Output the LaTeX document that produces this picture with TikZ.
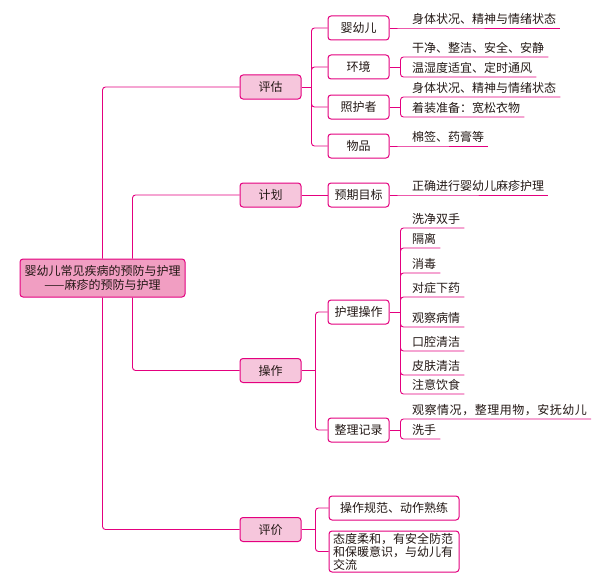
\documentclass[tikz,border=0pt]{standalone}
\usepackage{fontspec}
\setmainfont{Noto Sans CJK SC}
\usetikzlibrary{positioning}
\definecolor{mag}{HTML}{E4007F}
\definecolor{pinkfill}{HTML}{F6C6DC}
\definecolor{rootfill}{HTML}{F19EC2}
\definecolor{ink}{HTML}{231815}

\begin{document}
\begin{tikzpicture}[x=1pt,y=-1pt,font=\fontsize{12}{14}\selectfont,text=ink]
      \useasboundingbox (0,0) rectangle (605,586);
      \tikzstyle{conn}=[draw=mag,line width=0.9pt,rounded corners=3pt]
      \tikzstyle{onel}=[text height=10.5pt,text depth=1.5pt]
      \tikzstyle{rootbox}=[draw=mag,fill=rootfill,line width=1pt,rounded corners=3pt,minimum width=165pt,minimum height=38pt,align=center,inner sep=0pt]
      \tikzstyle{lvone}=[onel,draw=mag,fill=pinkfill,line width=1pt,rounded corners=3pt,minimum width=61pt,minimum height=24pt,inner sep=0pt]
      \tikzstyle{lvtwo}=[draw=mag,fill=white,line width=1pt,rounded corners=3pt,minimum width=61pt,minimum height=24pt,inner sep=0pt]
      \tikzstyle{leaf}=[onel,anchor=south west,inner xsep=4pt,inner ysep=3pt]

      \node[rootbox] (root) at (102.5,278) {婴幼儿常见疾病的预防与护理\\——麻疹的预防与护理};

      \node[lvone] (pg) at (270.5,87)    {评估};
      \node[lvone] (jh) at (270.5,195)   {计划};
      \node[lvone] (cz) at (270.5,370.5) {操作};
      \node[lvone] (pj) at (270.5,529.5) {评价};

      \node[lvtwo,onel] (yye)  at (358.5,28)  {婴幼儿};
      \node[lvtwo,onel] (hj)   at (358.5,67)  {环境};
      \node[lvtwo,onel] (zhz)  at (358.5,107) {照护者};
      \node[lvtwo,onel] (wp)   at (358.5,146) {物品};
      \node[lvtwo,onel] (yqmb) at (358.5,195) {预期目标};
      \node[lvtwo,onel] (hlcz) at (358.5,312) {护理操作};
      \node[lvtwo,onel] (zljl) at (358.5,430) {整理记录};
      \node[lvtwo,onel,minimum width=130pt] (pj1) at (394,508) {操作规范、动作熟练};
      \node[lvtwo,minimum width=130pt,minimum height=41pt,inner xsep=4pt,text width=122pt,align=left,font=\fontsize{12}{13}\selectfont] (pj2) at (394,551.5)
            {态度柔和，有安全防范\\和保暖意识，与幼儿有\\交流};

      \node[leaf] (l1)  at (408,28)  {身体状况、精神与情绪状态};
      \node[leaf] (l2)  at (408,57)  {干净、整洁、安全、安静};
      \node[leaf] (l3)  at (408,77)  {温湿度适宜、定时通风};
      \node[leaf] (l4)  at (408,97)  {身体状况、精神与情绪状态};
      \node[leaf] (l5)  at (408,117) {着装准备：宽松衣物};
      \node[leaf] (l6)  at (408,146) {棉签、药膏等};
      \node[leaf] (l7)  at (408,195) {正确进行婴幼儿麻疹护理};
      \node[leaf] (l8)  at (408,228) {洗净双手};
      \node[leaf] (l9)  at (408,248) {隔离};
      \node[leaf] (l10) at (408,273) {消毒};
      \node[leaf] (l11) at (408,297) {对症下药};
      \node[leaf] (l12) at (408,327) {观察病情};
      \node[leaf] (l13) at (408,351) {口腔清洁};
      \node[leaf] (l14) at (408,375) {皮肤清洁};
      \node[leaf] (l15) at (408,394) {注意饮食};
      \node[leaf] (l16) at (408,419) {\addfontfeature{LetterSpace=4.3}观察情况，整理用物，安抚幼儿};
      \node[leaf] (l17) at (408,439) {洗手};

      \draw[conn] (root.north) |- (pg.west);
      \draw[conn] ([xshift=30pt]root.north) |- (jh.west);
      \draw[conn] ([xshift=30pt]root.south) |- (cz.west);
      \draw[conn] (root.south) |- (pj.west);

      \draw[conn] (pg.east) -- ++(10,0);
      \draw[conn] ([xshift=10pt]pg.east) |- (yye.west);
      \draw[conn] ([xshift=10pt]pg.east) |- (hj.west);
      \draw[conn] ([xshift=10pt]pg.east) |- (zhz.west);
      \draw[conn] ([xshift=10pt]pg.east) |- (wp.west);
      \draw[conn] (jh.east) -- (yqmb.west);
      \draw[conn] (cz.east) -- ++(14,0);
      \draw[conn] ([xshift=14pt]cz.east) |- (hlcz.west);
      \draw[conn] ([xshift=14pt]cz.east) |- (zljl.west);
      \draw[conn] (pj.east) -- ++(14,0);
      \draw[conn] ([xshift=14pt]pj.east) |- (pj1.west);
      \draw[conn] ([xshift=14pt]pj.east) |- (pj2.west);

      \draw[conn] (yye.east) -- (l1.south west) -- (l1.south east);
      \draw[conn] (hj.east) -- ++(11,0);
      \draw[conn] ([xshift=11pt]hj.east) |- (l2.south west) -- (l2.south east);
      \draw[conn] ([xshift=11pt]hj.east) |- (l3.south west) -- (l3.south east);
      \draw[conn] (zhz.east) -- ++(11,0);
      \draw[conn] ([xshift=11pt]zhz.east) |- (l4.south west) -- (l4.south east);
      \draw[conn] ([xshift=11pt]zhz.east) |- (l5.south west) -- (l5.south east);
      \draw[conn] (wp.east) -- (l6.south west) -- (l6.south east);
      \draw[conn] (yqmb.east) -- (l7.south west) -- (l7.south east);
      \draw[conn] (hlcz.east) -- ++(11,0);
      \draw[conn] ([xshift=11pt]hlcz.east) |- (l8.south west) -- (l8.south east);
      \draw[conn] ([xshift=11pt]hlcz.east) |- (l9.south west) -- (l9.south east);
      \draw[conn] ([xshift=11pt]hlcz.east) |- (l10.south west) -- (l10.south east);
      \draw[conn] ([xshift=11pt]hlcz.east) |- (l11.south west) -- (l11.south east);
      \draw[conn] ([xshift=11pt]hlcz.east) |- (l12.south west) -- (l12.south east);
      \draw[conn] ([xshift=11pt]hlcz.east) |- (l13.south west) -- (l13.south east);
      \draw[conn] ([xshift=11pt]hlcz.east) |- (l14.south west) -- (l14.south east);
      \draw[conn] ([xshift=11pt]hlcz.east) |- (l15.south west) -- (l15.south east);
      \draw[conn] (zljl.east) -- ++(11,0);
      \draw[conn] ([xshift=11pt]zljl.east) |- (l16.south west) -- (l16.south east);
      \draw[conn] ([xshift=11pt]zljl.east) |- (l17.south west) -- (l17.south east);
\end{tikzpicture}
\end{document}
